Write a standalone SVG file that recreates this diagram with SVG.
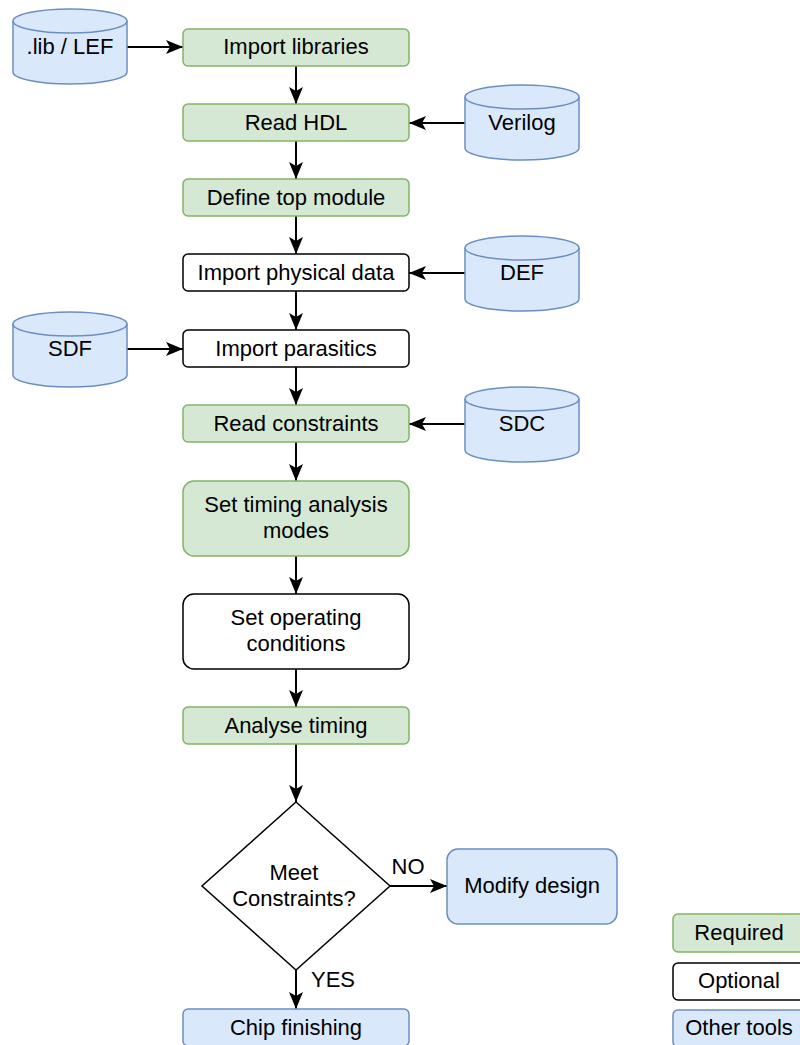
<svg xmlns="http://www.w3.org/2000/svg" width="800" height="1045" viewBox="0 0 800 1045">
  <style>
    text { font-family: "Liberation Sans", Arial, Helvetica, sans-serif; font-size: 22px; fill: #000; text-anchor: middle; }
    .req { fill: #d5e8d4; stroke: #82b366; stroke-width: 1.5; }
    .opt { fill: #ffffff; stroke: #000000; stroke-width: 1.5; }
    .oth { fill: #dae8fc; stroke: #6c8ebf; stroke-width: 1.5; }
    .db { fill: #dae8fc; stroke: #6c8ebf; stroke-width: 1.5; }
    .db-rim { fill: none; stroke: #6c8ebf; stroke-width: 1.5; }
    .edge { fill: none; stroke: #000; stroke-width: 2; marker-end: url(#arrow); }
  </style>
  <defs>
    <marker id="arrow" markerUnits="userSpaceOnUse" markerWidth="18" markerHeight="16" refX="17" refY="7" orient="auto">
      <path d="M0,0 L17,7 L0,14 L4,7 Z" fill="#000"/>
    </marker>
    <!-- data store cylinder, 114 x 75 -->
    <g id="cyl">
      <path class="db" d="M0,12 A57,12 0 0 1 114,12 V63 A57,12 0 0 1 0,63 Z"/>
      <path class="db-rim" d="M0,12 A57,12 0 0 0 114,12"/>
    </g>
  </defs>

  <!-- connectors -->
  <g id="connectors">
    <line class="edge" x1="127" y1="47" x2="183" y2="47"/>
    <line class="edge" x1="296" y1="66" x2="296" y2="104"/>
    <line class="edge" x1="465" y1="123" x2="409" y2="123"/>
    <line class="edge" x1="296" y1="141" x2="296" y2="179"/>
    <line class="edge" x1="296" y1="216" x2="296" y2="254"/>
    <line class="edge" x1="465" y1="273" x2="409" y2="273"/>
    <line class="edge" x1="296" y1="291" x2="296" y2="330"/>
    <line class="edge" x1="127" y1="349" x2="183" y2="349"/>
    <line class="edge" x1="296" y1="367" x2="296" y2="405"/>
    <line class="edge" x1="465" y1="424" x2="409" y2="424"/>
    <line class="edge" x1="296" y1="442" x2="296" y2="481"/>
    <line class="edge" x1="296" y1="556" x2="296" y2="594"/>
    <line class="edge" x1="296" y1="669" x2="296" y2="707"/>
    <line class="edge" x1="296" y1="744" x2="296" y2="802"/>
    <line class="edge" x1="390" y1="886" x2="447" y2="886"/>
    <line class="edge" x1="296" y1="970" x2="296" y2="1009"/>
    <text x="408" y="874">NO</text>
    <text x="333" y="987">YES</text>
  </g>

  <!-- input data -->
  <g id="lib-lef"><use href="#cyl" x="13" y="9"/><text x="70" y="54">.lib / LEF</text></g>
  <g id="verilog"><use href="#cyl" x="465" y="85"/><text x="522" y="130">Verilog</text></g>
  <g id="def"><use href="#cyl" x="465" y="236"/><text x="522" y="280">DEF</text></g>
  <g id="sdf"><use href="#cyl" x="13" y="312"/><text x="70" y="356">SDF</text></g>
  <g id="sdc"><use href="#cyl" x="465" y="387"/><text x="522" y="431">SDC</text></g>

  <!-- flow steps -->
  <g id="import-libraries"><rect class="req" x="183" y="29" width="226" height="37" rx="5"/><text x="296" y="54">Import libraries</text></g>
  <g id="read-hdl"><rect class="req" x="183" y="104" width="226" height="37" rx="5"/><text x="296" y="130">Read HDL</text></g>
  <g id="define-top"><rect class="req" x="183" y="179" width="226" height="37" rx="5"/><text x="296" y="205">Define top module</text></g>
  <g id="import-physical"><rect class="opt" x="183" y="254" width="226" height="37" rx="5"/><text x="296" y="280">Import physical data</text></g>
  <g id="import-parasitics"><rect class="opt" x="183" y="330" width="226" height="37" rx="5"/><text x="296" y="356">Import parasitics</text></g>
  <g id="read-constraints"><rect class="req" x="183" y="405" width="226" height="37" rx="5"/><text x="296" y="431">Read constraints</text></g>
  <g id="timing-modes"><rect class="req" x="183" y="481" width="226" height="75" rx="11"/><text x="296" y="512">Set timing analysis</text><text x="296" y="538">modes</text></g>
  <g id="operating-conditions"><rect class="opt" x="183" y="594" width="226" height="75" rx="11"/><text x="296" y="625">Set operating</text><text x="296" y="651">conditions</text></g>
  <g id="analyse-timing"><rect class="req" x="183" y="707" width="226" height="37" rx="5"/><text x="296" y="733">Analyse timing</text></g>
  <g id="meet-constraints"><path class="opt" d="M296,802 L390,886 L296,970 L202,886 Z"/><text x="294" y="880">Meet</text><text x="294" y="906">Constraints?</text></g>
  <g id="modify-design"><rect class="oth" x="447" y="849" width="170" height="75" rx="11"/><text x="532" y="893">Modify design</text></g>
  <g id="chip-finishing"><rect class="oth" x="183" y="1009" width="226" height="37" rx="5"/><text x="296" y="1035">Chip finishing</text></g>

  <!-- legend -->
  <g id="legend-required"><rect class="req" x="673" y="914" width="132" height="38" rx="5"/><text x="739" y="940">Required</text></g>
  <g id="legend-optional"><rect class="opt" x="673" y="963" width="132" height="37" rx="5"/><text x="739" y="988">Optional</text></g>
  <g id="legend-other"><rect class="oth" x="673" y="1010" width="132" height="37" rx="5"/><text x="739" y="1035">Other tools</text></g>
</svg>
